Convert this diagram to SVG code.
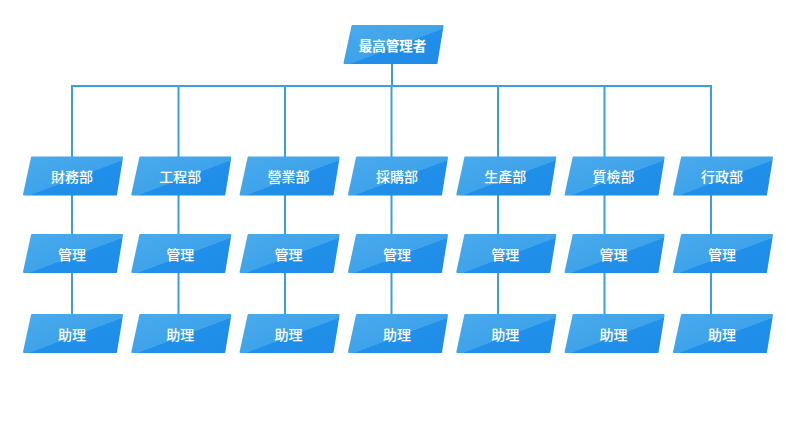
<svg xmlns="http://www.w3.org/2000/svg" width="786" height="429" viewBox="0 0 786 429">
<style>
.box{fill:url(#g);stroke:url(#g);stroke-width:2;stroke-linejoin:round}
.t{fill:#fff;font-family:"Noto Sans CJK TC","Noto Sans CJK SC",sans-serif;font-size:14px;font-weight:500;text-anchor:middle;dominant-baseline:central}
.top{font-weight:700;font-size:13.5px}
.c line{stroke:#3a9ee0;stroke-width:2}
</style>
<defs>
<linearGradient id="g" x1="0" y1="0" x2="1" y2="1">
<stop offset="0" stop-color="#4aaaec"/>
<stop offset="0.54" stop-color="#3ea3ea"/>
<stop offset="0.54" stop-color="#2190ea"/>
<stop offset="1" stop-color="#1e8ce8"/>
</linearGradient>
<polygon id="p" points="8,0 98,0 92,37 0,37"/>
</defs>
<rect width="786" height="429" fill="#fff"/>
<g class="c" id="connectors">
<line x1="392" y1="63" x2="392" y2="86"/>
<line x1="71" y1="86" x2="712" y2="86"/>
<line x1="72" y1="85" x2="72" y2="353"/>
<line x1="178.5" y1="86" x2="178.5" y2="353"/>
<line x1="285" y1="86" x2="285" y2="353"/>
<line x1="391.5" y1="86" x2="391.5" y2="353"/>
<line x1="498" y1="86" x2="498" y2="353"/>
<line x1="604.5" y1="86" x2="604.5" y2="353"/>
<line x1="711" y1="85" x2="711" y2="353"/>
</g>
<g id="n-top"><use href="#p" class="box" x="344.5" y="26"/><text class="t top" x="392.5" y="44.5">最高管理者</text></g>
<g id="n-d1"><use href="#p" class="box" x="24" y="157.5"/><text class="t" x="72" y="176">財務部</text></g>
<g id="n-d2"><use href="#p" class="box" x="132.3" y="157.5"/><text class="t" x="180.3" y="176">工程部</text></g>
<g id="n-d3"><use href="#p" class="box" x="240.6" y="157.5"/><text class="t" x="288.6" y="176">營業部</text></g>
<g id="n-d4"><use href="#p" class="box" x="349" y="157.5"/><text class="t" x="397" y="176">採購部</text></g>
<g id="n-d5"><use href="#p" class="box" x="457.3" y="157.5"/><text class="t" x="505.3" y="176">生產部</text></g>
<g id="n-d6"><use href="#p" class="box" x="565.6" y="157.5"/><text class="t" x="613.6" y="176">質檢部</text></g>
<g id="n-d7"><use href="#p" class="box" x="674" y="157.5"/><text class="t" x="722" y="176">行政部</text></g>
<g id="n-m1"><use href="#p" class="box" x="24" y="235"/><text class="t" x="72" y="253.5">管理</text></g>
<g id="n-m2"><use href="#p" class="box" x="132.3" y="235"/><text class="t" x="180.3" y="253.5">管理</text></g>
<g id="n-m3"><use href="#p" class="box" x="240.6" y="235"/><text class="t" x="288.6" y="253.5">管理</text></g>
<g id="n-m4"><use href="#p" class="box" x="349" y="235"/><text class="t" x="397" y="253.5">管理</text></g>
<g id="n-m5"><use href="#p" class="box" x="457.3" y="235"/><text class="t" x="505.3" y="253.5">管理</text></g>
<g id="n-m6"><use href="#p" class="box" x="565.6" y="235"/><text class="t" x="613.6" y="253.5">管理</text></g>
<g id="n-m7"><use href="#p" class="box" x="674" y="235"/><text class="t" x="722" y="253.5">管理</text></g>
<g id="n-a1"><use href="#p" class="box" x="24" y="315"/><text class="t" x="72" y="333.5">助理</text></g>
<g id="n-a2"><use href="#p" class="box" x="132.3" y="315"/><text class="t" x="180.3" y="333.5">助理</text></g>
<g id="n-a3"><use href="#p" class="box" x="240.6" y="315"/><text class="t" x="288.6" y="333.5">助理</text></g>
<g id="n-a4"><use href="#p" class="box" x="349" y="315"/><text class="t" x="397" y="333.5">助理</text></g>
<g id="n-a5"><use href="#p" class="box" x="457.3" y="315"/><text class="t" x="505.3" y="333.5">助理</text></g>
<g id="n-a6"><use href="#p" class="box" x="565.6" y="315"/><text class="t" x="613.6" y="333.5">助理</text></g>
<g id="n-a7"><use href="#p" class="box" x="674" y="315"/><text class="t" x="722" y="333.5">助理</text></g>
</svg>
